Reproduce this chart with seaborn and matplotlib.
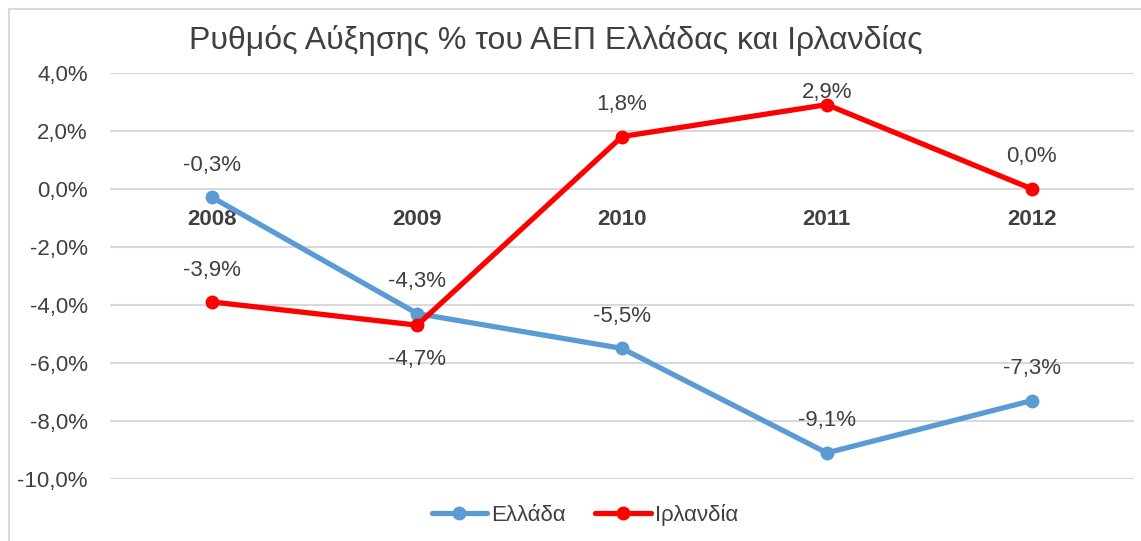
"""
GDP growth rate of Greece and Ireland, 2008-2012.
"""

import pandas as pd
import matplotlib.pyplot as plt
from matplotlib.lines import Line2D
import seaborn as sns

years = ["2008", "2009", "2010", "2011", "2012"]
greece = [-0.3, -4.3, -5.5, -9.1, -7.3]
ireland = [-3.9, -4.7, 1.8, 2.9, 0.0]
series_names = ["Ελλάδα", "Ιρλανδία"]
series_colors = ["#5B9BD5", "#FF0000"]
title = "Ρυθμός Αύξησης % του ΑΕΠ Ελλάδας και Ιρλανδίας"
y_ticks = [4, 2, 0, -2, -4, -6, -8, -10]

sns.set_style("white")
plt.rcParams["font.family"] = ["Liberation Sans", "DejaVu Sans"]
text_color = "#404040"

df = pd.DataFrame({
    "year": years * 2,
    "value": greece + ireland,
    "country": [series_names[0]] * len(years) + [series_names[1]] * len(years),
})

fig = plt.figure(figsize=(11.41, 5.41), dpi=100)
ax = fig.add_axes([0.0964, 0.1146, 0.8975, 0.751])

sns.lineplot(
    data=df, x="year", y="value", hue="country",
    palette=dict(zip(series_names, series_colors)),
    marker="o", markersize=10, markeredgewidth=0,
    linewidth=3.8, legend=False, ax=ax,
)

# data labels, mostly above the point like Excel does
for name, vals in zip(series_names, [greece, ireland]):
    for i, v in enumerate(vals):
        dy = 23
        if name == "Ιρλανδία" and i == 1:
            dy = -25
        elif name == "Ιρλανδία" and i == 3:
            dy = 9
        ax.annotate(f"{v:.1f}%".replace(".", ","), (i, v),
                    xytext=(0, dy), textcoords="offset points",
                    ha="center", va="center", fontsize=16, color=text_color)

ax.set_xlim(-0.5, len(years) - 0.5)
ax.set_ylim(-10, 4)
ax.set_yticks(y_ticks)
ax.set_yticklabels([f"{t:.1f}%".replace(".", ",") for t in y_ticks])
ax.yaxis.grid(True, color="#D9D9D9", linewidth=1.5)
ax.set_axisbelow(True)
ax.tick_params(axis="y", length=0, pad=16, labelsize=16, labelcolor=text_color)

# category labels sit just under the zero line
ax.spines["bottom"].set_position(("data", 0))
for s in ["top", "right", "left", "bottom"]:
    ax.spines[s].set_visible(False)
ax.tick_params(axis="x", length=0, pad=14.5, labelsize=16, labelcolor=text_color)
for lbl in ax.get_xticklabels():
    lbl.set_fontweight("bold")
ax.set_xlabel("")
ax.set_ylabel("")

fig.text(556 / 1141, 1 - 40 / 541, title, ha="center", va="center",
         fontsize=23, color=text_color)

handles = [Line2D([], [], color=c, linewidth=3.8, marker="o", markersize=10,
                  markeredgewidth=0) for c in series_colors]
fig.legend(handles, series_names, loc="center", ncol=2,
           bbox_to_anchor=(585 / 1141, 1 - 515 / 541), frameon=False,
           fontsize=16, handlelength=2.5, handletextpad=0.2,
           columnspacing=1.3, labelcolor=text_color)

# light chart border (left and top edges visible in the crop)
fig.add_artist(Line2D([9 / 1141, 9 / 1141], [0, 1 - 9 / 541],
                      transform=fig.transFigure, color="#D9D9D9", linewidth=1.5))
fig.add_artist(Line2D([9 / 1141, 1], [1 - 9 / 541, 1 - 9 / 541],
                      transform=fig.transFigure, color="#D9D9D9", linewidth=1.5))

plt.savefig("out.png", dpi=100)
print("Saved: out.png")
